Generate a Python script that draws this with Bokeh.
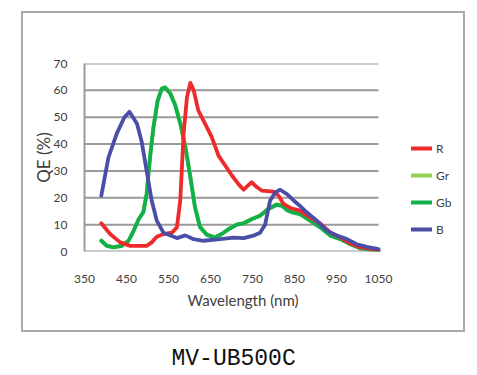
from bokeh.plotting import figure
from bokeh.models import Legend, LegendItem, FixedTicker, Range1d, Title, InlineStyleSheet, LinearAxis
from bokeh.embed import file_html
from bokeh.resources import INLINE

# ---- data ----
r_nm = [390, 411, 435, 459, 498, 510, 522, 538, 558, 570, 578, 586, 594, 602, 610, 621, 637, 653,
        669, 685, 701, 717, 729, 748, 760, 772, 800, 812, 824, 840, 863, 887, 911, 935, 959, 983, 1006, 1050]
r_qe = [10.5, 6.5, 3.4, 2.1, 2.1, 3.4, 5.5, 6.5, 7.0, 9.0, 19, 44, 57.5, 62.8, 60, 52.5, 47.6, 42.6,
        35.7, 32, 28.3, 25, 23, 25.8, 24, 22.7, 22.3, 20.8, 17.7, 16.2, 15.2, 12.7, 10.5, 7.1, 5.2, 3.0, 1.6, 0.5]

gb_nm = [390, 403, 419, 439, 455, 467, 479, 490, 498, 506, 514, 524, 534, 542, 554, 566, 578, 590,
         602, 613, 625, 641, 661, 677, 693, 713, 729, 748, 768, 788, 808, 820, 832, 844, 863, 887,
         911, 935, 959, 983, 1006, 1050]
gb_qe = [4.0, 2.1, 1.5, 2.1, 4.0, 7.7, 12, 14.6, 21.4, 35, 46, 56, 60.6, 61, 58.8, 54.4, 47.6, 38.9,
         27.6, 16.4, 9.0, 6.2, 5.2, 6.5, 8.3, 10, 10.5, 12, 13.3, 15.8, 17.4, 17, 15.4, 14.6, 13.9, 11.5,
         9.0, 5.9, 4.6, 2.7, 1.2, 0.2]

gr_nm = [390, 403, 419, 439, 455, 467, 479, 490, 498, 506, 514, 524, 534, 542, 554, 566, 578, 590,
         602, 613, 625, 641, 661, 677, 693, 713, 729, 748, 768, 788, 808, 820, 832, 844, 863, 887,
         911, 935, 959, 983, 1006, 1050]
gr_qe = [4.1, 2.2, 1.6, 2.2, 4.1, 7.8, 12.1, 14.7, 21.6, 35.2, 46.2, 56.2, 60.8, 61.2, 59.1, 54.8, 48.1, 39.4,
         28.1, 16.9, 9.4, 6.4, 5.3, 6.6, 8.4, 10.1, 10.6, 12.1, 13.4, 16.0, 17.6, 17.2, 15.6, 14.8, 14.0, 11.6,
         9.1, 6.0, 4.7, 2.8, 1.3, 0.3]

b_nm = [390, 407, 427, 445, 457, 475, 486, 498, 510, 522, 538, 570, 590, 610, 633, 673, 705, 729,
        752, 768, 780, 792, 804, 816, 832, 848, 863, 879, 903, 927, 951, 975, 998, 1022, 1050]
b_qe = [20.8, 35, 44, 50, 52, 47.6, 41, 30, 19, 11.5, 7, 5, 6, 4.6, 4, 4.6, 5.2, 5,
        5.9, 7, 10, 19, 22, 23, 21.4, 19, 17, 14.6, 11.5, 7.7, 5.9, 4.6, 2.7, 1.7, 0.9]

series_names = ["R", "Gr", "Gb", "B"]
colors = ["#ee2a2a", "#93d14f", "#12b04a", "#4a4ea6"]

x_ticks = [350, 450, 550, 650, 750, 850, 950, 1050]
y_ticks = [0, 10, 20, 30, 40, 50, 60, 70]

caption = "MV-UB500C"

FONT = "Lato"
TXT = "#404040"
GRID = "#9a9a9a"

frame_css = InlineStyleSheet(css="""
:host { position: relative; }
:host::after {
  content: ''; position: absolute; left: 21px; top: 11px; width: 440px; height: 317px;
  border: 2px solid #aaaaaa; pointer-events: none; box-sizing: content-box;
}
""")

# x range extends past the last tick so the legend sits inside the frame (0.42 px per nm)
p = figure(width=477, height=375, output_backend="svg", toolbar_location=None,
           x_range=Range1d(350, 1285.7), y_range=Range1d(0, 70),
           min_border_left=84, min_border_right=0, min_border_top=63, min_border_bottom=124,
           stylesheets=[frame_css])
p.background_fill_color = "white"
p.border_fill_color = "white"
p.outline_line_color = None
p.xgrid.grid_line_color = None
p.ygrid.grid_line_color = None

# horizontal gridlines spanning the tick range only
p.segment(x0=x_ticks[0], x1=x_ticks[-1], y0=y_ticks, y1=y_ticks, line_color=GRID, line_width=2)

# axes
p.xaxis.ticker = FixedTicker(ticks=x_ticks)
p.yaxis.ticker = FixedTicker(ticks=y_ticks)
for ax in (p.xaxis[0], p.yaxis[0]):
    ax.major_tick_line_color = None
    ax.minor_tick_line_color = None
    ax.major_label_text_font = FONT
    ax.major_label_text_font_size = "12px"
    ax.major_label_text_color = TXT
    ax.axis_label_text_font = FONT
    ax.axis_label_text_font_style = "normal"
    ax.axis_label_text_color = TXT
p.yaxis.axis_label_text_font_size = "17px"
p.xaxis.axis_line_color = None
p.yaxis.axis_line_color = GRID
p.yaxis.axis_line_width = 2
p.xaxis.major_label_standoff = 17
p.yaxis.major_label_standoff = 11
p.yaxis.axis_label = "QE (%)"
p.yaxis.axis_label_standoff = -3

# lines
data = [(r_nm, r_qe), (gr_nm, gr_qe), (gb_nm, gb_qe), (b_nm, b_qe)]
renderers = {}
order = [1, 2, 0, 3]  # draw Gr, Gb, R, B
for i in order:
    xs, ys = data[i]
    renderers[i] = p.line(xs, ys, line_color=colors[i], line_width=3.8, line_join="round", line_cap="round")

legend = Legend(items=[LegendItem(label=series_names[i], renderers=[renderers[i]]) for i in range(4)],
                location=(327, 12), orientation="vertical",
                glyph_width=21, glyph_height=20, spacing=7, padding=0, margin=0,
                label_standoff=4, label_text_font=FONT, label_text_font_size="12px",
                label_text_color=TXT, border_line_color=None, background_fill_alpha=0)
p.add_layout(legend, "center")

# x axis title below the tick labels
p.add_layout(Title(text="Wavelength (nm)", align="left", offset=103, text_font=FONT,
                   text_font_size="15px", text_font_style="normal", text_color=TXT,
                   standoff=6), "below")

# caption under the chart, as the single label of an extra bottom axis
caption_at = 705
cap_axis = LinearAxis(ticker=FixedTicker(ticks=[caption_at]),
                      major_label_overrides={caption_at: caption},
                      axis_line_color=None, major_tick_line_color=None, minor_tick_line_color=None,
                      major_label_standoff=28, major_label_text_font="Liberation Mono",
                      major_label_text_font_size="23px", major_label_text_color="#111111")
p.add_layout(cap_axis, "below")

open("out.html", "w").write(file_html(p, INLINE))
